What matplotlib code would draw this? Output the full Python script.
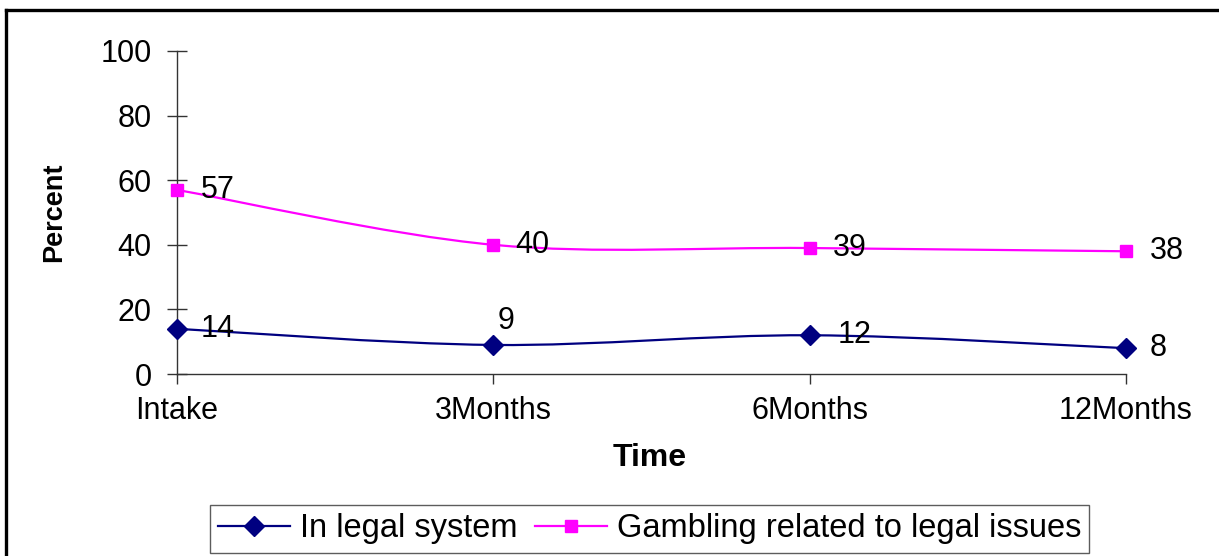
import matplotlib.pyplot as plt
from matplotlib.lines import Line2D
from matplotlib.patches import PathPatch
from matplotlib.path import Path

plt.rcParams["font.family"] = ["Liberation Sans", "DejaVu Sans"]

# ---------- data ----------
time_points = ["Intake", "3Months", "6Months", "12Months"]
legal_system = [14, 9, 12, 8]
gambling_legal = [57, 40, 39, 38]
y_ticks = [0, 20, 40, 60, 80, 100]

NAVY = "#000080"
MAGENTA = "#FF00FF"
FS = 22


def smooth_path(xs, ys):
    # Catmull-Rom style cubic Bezier through every point (Excel "smoothed line")
    n = len(xs)
    verts = [(xs[0], ys[0])]
    codes = [Path.MOVETO]
    for i in range(n - 1):
        x0, y0 = (xs[i - 1], ys[i - 1]) if i > 0 else (xs[i], ys[i])
        x1, y1 = xs[i], ys[i]
        x2, y2 = xs[i + 1], ys[i + 1]
        x3, y3 = (xs[i + 2], ys[i + 2]) if i + 2 < n else (x2, y2)
        c1 = (x1 + (x2 - x0) / 6, y1 + (y2 - y0) / 6)
        c2 = (x2 - (x3 - x1) / 6, y2 - (y3 - y1) / 6)
        verts += [c1, c2, (x2, y2)]
        codes += [Path.CURVE4] * 3
    return Path(verts, codes)


fig = plt.figure(figsize=(12.19, 5.56), dpi=100)
ax = fig.add_axes([0.1452, 0.3273, 0.7785, 0.581])

xs = list(range(len(time_points)))

for vals, color, marker, ms in [
    (legal_system, NAVY, "D", 10),
    (gambling_legal, MAGENTA, "s", 9),
]:
    ax.add_patch(PathPatch(smooth_path(xs, vals), facecolor="none",
                           edgecolor=color, lw=1.6, zorder=3))
    ax.plot(xs, vals, linestyle="none", marker=marker, ms=ms, color=color,
            markeredgecolor=color, zorder=4, clip_on=False)

# value labels
label_offsets_legal = [(17, 0), (3, 17), (20, 0), (17, 0)]
label_offsets_gamb = [(17, 0), (16, 0), (17, 0), (17, 0)]
for x, v, off in zip(xs, legal_system, label_offsets_legal):
    ax.annotate(str(v), (x, v), xytext=off, textcoords="offset points",
                fontsize=FS, ha="left", va="center", zorder=5)
for x, v, off in zip(xs, gambling_legal, label_offsets_gamb):
    ax.annotate(str(v), (x, v), xytext=off, textcoords="offset points",
                fontsize=FS, ha="left", va="center", zorder=5)

ax.set_xlim(0, 3)
ax.set_ylim(0, 100)
ax.set_xticks(xs)
ax.set_xticklabels(time_points)
ax.set_yticks(y_ticks)

for side in ["top", "right"]:
    ax.spines[side].set_visible(False)
for side in ["left", "bottom"]:
    ax.spines[side].set_linewidth(1.0)
    ax.spines[side].set_color("#333333")
ax.tick_params(axis="y", direction="inout", length=14.5, width=1.0,
               color="#333333", labelsize=FS, pad=11)
ax.tick_params(axis="x", direction="out", length=7, width=1.0,
               color="#333333", labelsize=FS, pad=9)
ax.patch.set_alpha(0.0)

ax.set_ylabel("Percent", fontsize=19.5, fontweight="bold")
ax.yaxis.set_label_coords(-0.116, 0.5)
ax.set_xlabel("Time", fontsize=23, fontweight="bold")
ax.xaxis.set_label_coords(0.498, -0.215)

# legend
handles = [
    Line2D([], [], color=NAVY, lw=1.6, marker="D", ms=10),
    Line2D([], [], color=MAGENTA, lw=1.6, marker="s", ms=9),
]
leg = fig.legend(handles, ["In legal system", "Gambling related to legal issues"],
                 loc="center", bbox_to_anchor=(0.5328, 0.0486), ncol=2,
                 fontsize=23.5, frameon=True, fancybox=False, shadow=False,
                 handlelength=2.2, handletextpad=0.3, columnspacing=0.55,
                 borderpad=0.25, borderaxespad=0)
leg.get_frame().set_edgecolor("#333333")
leg.get_frame().set_linewidth(1.0)

# outer chart border (left and top edges)
fig.add_artist(Line2D([0.0049, 0.0049], [0.0, 0.982], transform=fig.transFigure,
                      color="black", lw=2.4))
fig.add_artist(Line2D([0.0049, 1.0], [0.982, 0.982], transform=fig.transFigure,
                      color="black", lw=2.4))

fig.savefig("out.png", dpi=100)
